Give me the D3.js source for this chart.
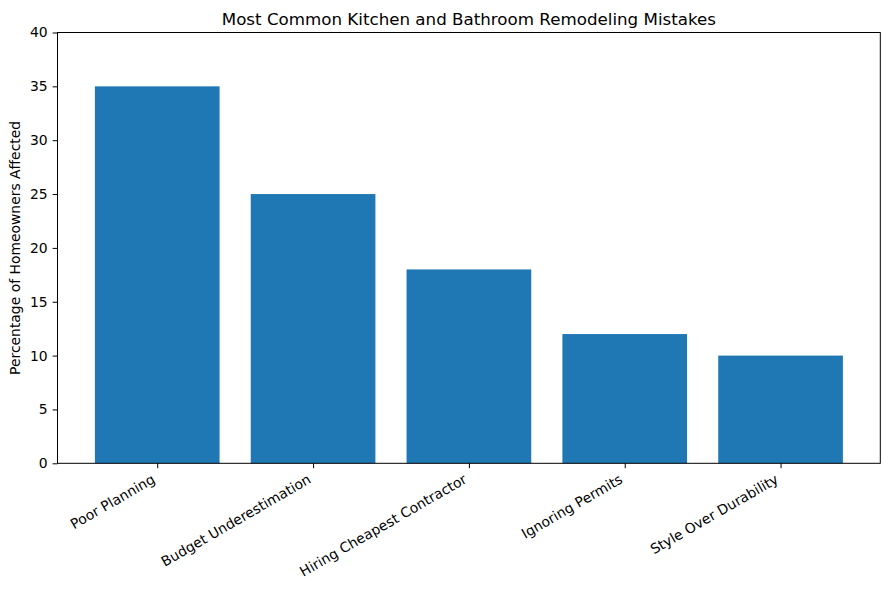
<!DOCTYPE html>
<html>
<head>
<meta charset="UTF-8">
<script src="https://d3js.org/d3.v7.min.js"></script>
<style>
  body { margin: 0; background: #fff; }
  text { font-family: "DejaVu Sans", sans-serif; fill: #000; }
</style>
</head>
<body>
<svg width="889" height="590"></svg>
<script>
// data
const categories = ["Poor Planning", "Budget Underestimation", "Hiring Cheapest Contractor", "Ignoring Permits", "Style Over Durability"];
const percentages = [35, 25, 18, 12, 10];
const yTicks = [0, 5, 10, 15, 20, 25, 30, 35, 40];

const margin = {top: 32.5, right: 8.7, bottom: 126.7, left: 57.5},
      width = 889 - margin.left - margin.right,
      height = 590 - margin.top - margin.bottom;

const svg = d3.select("svg")
  .append("g")
    .attr("transform", "translate(" + margin.left + "," + margin.top + ")");

// bars sit at integer positions, width 0.8, 5% side margins
const x = d3.scaleLinear()
    .domain([-0.64, categories.length - 1 + 0.64])
    .range([0, width]);

const y = d3.scaleLinear()
    .domain([0, 40])
    .range([height, 0]);

svg.selectAll(".bar")
    .data(percentages)
    .enter().append("rect")
    .attr("class", "bar")
    .attr("x", (d, i) => x(i - 0.4))
    .attr("y", d => y(d))
    .attr("width", (d, i) => x(i + 0.4) - x(i - 0.4))
    .attr("height", d => height - y(d))
    .attr("fill", "#1f77b4");

// x axis
const xAxis = svg.append("g")
    .attr("transform", "translate(0," + height + ")")
    .call(d3.axisBottom(x).tickValues(d3.range(categories.length)).tickFormat(i => categories[i]).tickSizeOuter(0).tickSize(4.9));
xAxis.select(".domain").remove();
xAxis.selectAll(".tick line").attr("stroke", "#000").attr("stroke-width", 1);
xAxis.selectAll(".tick text")
    .style("font-size", "13.9px")
    .attr("text-anchor", "end")
    .attr("x", 0).attr("y", 0).attr("dy", null)
    .attr("transform", "translate(-1.6,18.8) rotate(-30)");

// y axis
const yAxis = svg.append("g")
    .call(d3.axisLeft(y).tickValues(yTicks).tickSize(4.9).tickPadding(4.9).tickSizeOuter(0));
yAxis.select(".domain").remove();
yAxis.selectAll(".tick line").attr("stroke", "#000");
yAxis.selectAll(".tick text").style("font-size", "13.9px");

// frame
svg.append("rect")
    .attr("x", 0).attr("y", 0)
    .attr("width", width).attr("height", height)
    .attr("fill", "none").attr("stroke", "#000").attr("stroke-width", 1);

// title
svg.append("text")
    .attr("x", width / 2)
    .attr("y", -8)
    .attr("text-anchor", "middle")
    .style("font-size", "16.7px")
    .text("Most Common Kitchen and Bathroom Remodeling Mistakes");

// y label
svg.append("text")
    .attr("transform", "rotate(-90)")
    .attr("x", -height / 2)
    .attr("y", -38)
    .attr("text-anchor", "middle")
    .style("font-size", "13.9px")
    .text("Percentage of Homeowners Affected");
</script>
</body>
</html>
